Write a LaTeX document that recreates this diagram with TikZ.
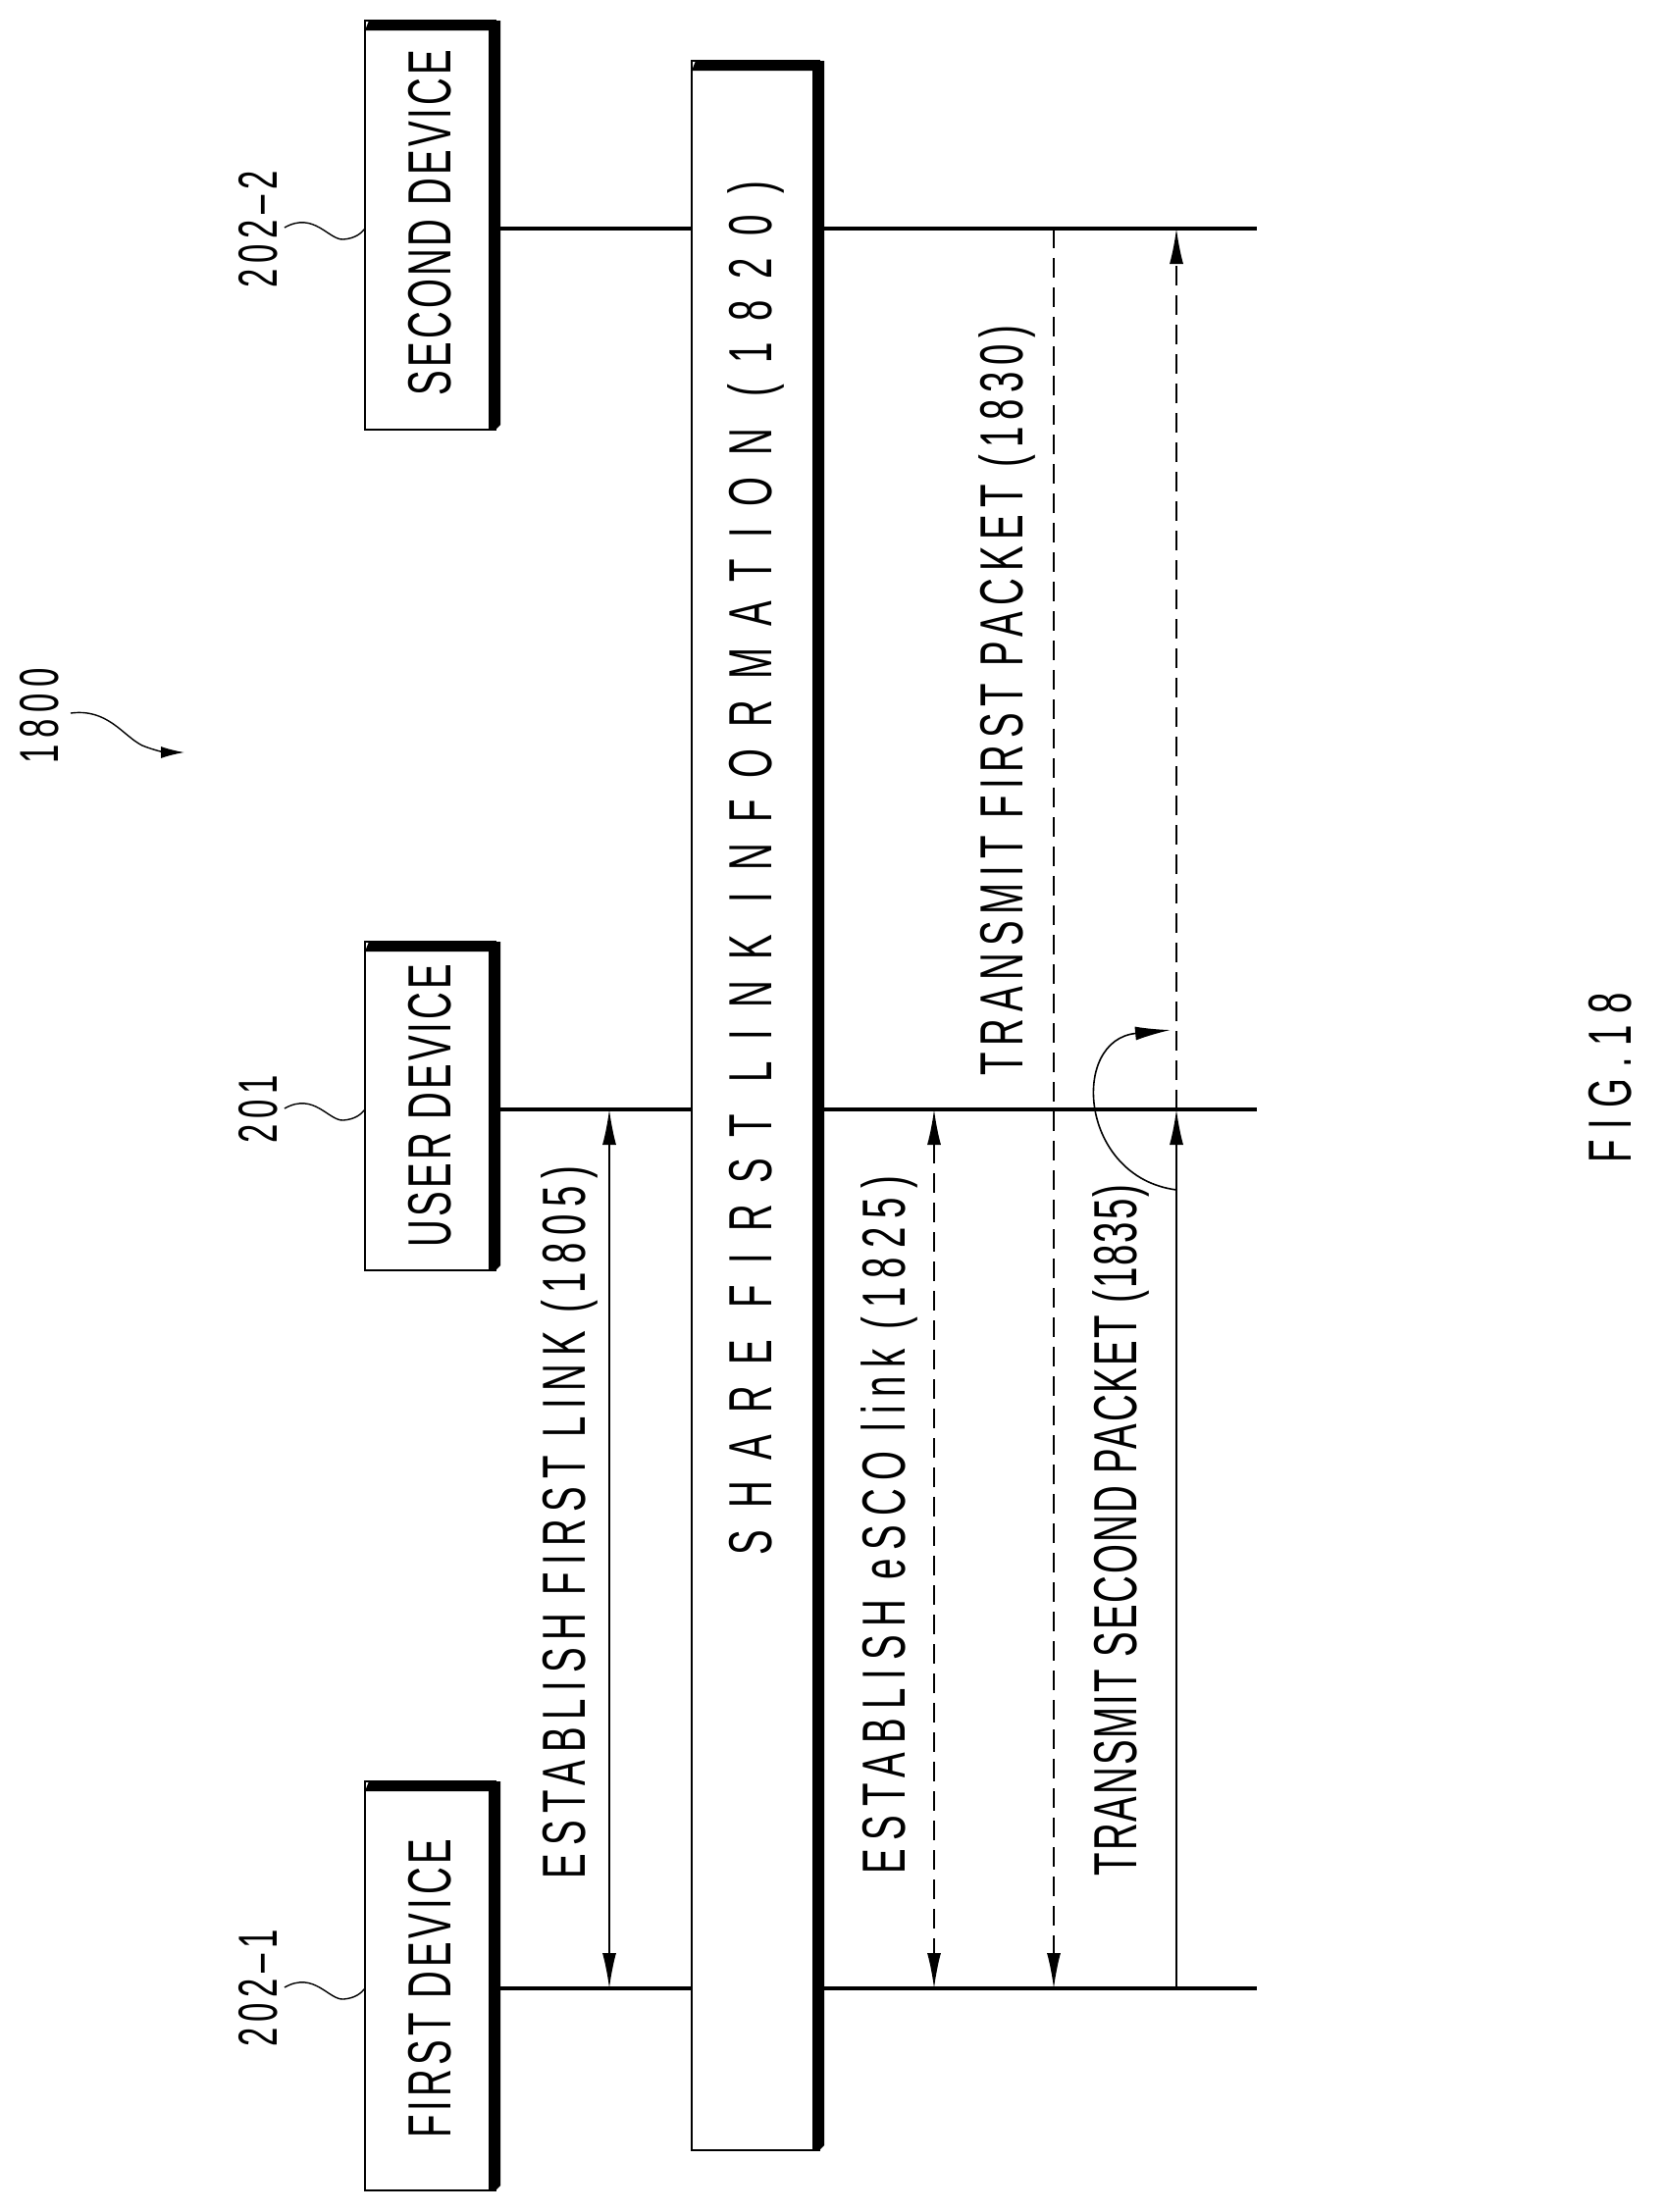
\documentclass[tikz,border=0pt]{standalone}
\usepackage{fontspec}
\setmainfont{Liberation Sans}
\newfontfamily\lbl[FakeStretch=0.62]{Liberation Sans}
\newcommand{\lab}[2]{{\addfontfeature{LetterSpace=#1}#2}}
\usetikzlibrary{arrows.meta}
\begin{document}
\begin{tikzpicture}[x=0.5pt,y=-0.5pt,
  life/.style={line width=2pt},
  msg/.style={line width=0.8pt,-{Latex[length=18pt,width=7pt]}},
  msgb/.style={line width=0.8pt,{Latex[length=18pt,width=7pt]}-{Latex[length=18pt,width=7pt]}},
  dsh/.style={dash pattern=on 10pt off 5pt},
  txt/.style={rotate=90,font=\lbl\fontsize{31}{36}\selectfont,inner sep=0pt},
  ref/.style={rotate=90,font=\lbl\fontsize{28}{32}\selectfont,inner sep=0pt},
  sq/.style={line width=0.7pt}]
\useasboundingbox (0,0) rectangle (1698,2255);
\newcommand{\devbox}[5]{% x1 y1 x2 y2 name
  \draw[line width=1.2pt] (#1,#2) rectangle (#3,#4);
  \fill (#1,#2+10) -- (#1+4,#2) -- (#3+5,#2) -- (#3+5,#4-5) -- (#3,#4) -- (#3-7,#4) -- (#3-7,#2+10) -- cycle;
  \coordinate (#5) at (#1,#2);}
\devbox{372}{21}{505}{438}{sd}
\devbox{372}{960}{505}{1295}{ud}
\devbox{372}{1816}{505}{2233}{fd}
\devbox{705}{62}{835}{2192}{bar}
\node[txt] (tsd) at (438,227) {\lab{5}{SECOND DEVICE}};
\node[txt] (tud) at (438,1127) {\lab{5}{USER DEVICE}};
\node[txt] (tfd) at (438,2027) {\lab{6.5}{FIRST DEVICE}};
\node[txt] (tbar) at (770,885) {\lab{35}{SHARE FIRST LINK INFORMATION (1820)}};
% lifelines
\coordinate (s1) at (510,233); \coordinate (s2) at (835,233); \coordinate (s3) at (1281,233);
\coordinate (u1) at (510,1131); \coordinate (u2) at (835,1131); \coordinate (u3) at (1281,1131);
\coordinate (f1) at (510,2027); \coordinate (f2) at (835,2027); \coordinate (f3) at (1281,2027);
\draw[life] (s1) -- (705,233) (s2) -- (s3);
\draw[life] (u1) -- (705,1131) (u2) -- (u3);
\draw[life] (f1) -- (705,2027) (f2) -- (f3);
% reference labels
\node[ref] (r2) at (263,234) {\lab{10}{202–2}};
\node[ref] (r1) at (263,1131) {\lab{10}{201}};
\node[ref] (r3) at (263,2027) {\lab{10}{202–1}};
\draw[sq] (290,232) .. controls (320,215) and (335,245) .. (350,244) .. controls (362,243) and (368,238) .. (372,233);
\draw[sq] (290,1130) .. controls (320,1113) and (335,1143) .. (350,1142) .. controls (362,1141) and (368,1136) .. (372,1131);
\draw[sq] (290,2026) .. controls (320,2009) and (335,2039) .. (350,2038) .. controls (362,2037) and (368,2032) .. (372,2027);
\node[ref] (r1800) at (40,730) {\lab{12}{1800}};
\coordinate (p1800) at (188,767);
\draw[sq,-{Latex[length=12pt,width=6pt]}] (72,727) .. controls (110,722) and (125,750) .. (145,760) .. controls (160,766) and (170,767) .. (p1800);
% messages
\coordinate (a1) at (621,1131); \coordinate (a1b) at (621,2027);
\draw[msgb] (a1) -- (a1b);
\node[txt] (t1805) at (580,1552) {\lab{12.5}{ESTABLISH FIRST LINK (1805)}};
\coordinate (a2) at (952,1131); \coordinate (a2b) at (952,2027);
\draw[msgb,dsh] (a2) -- (a2b);
\node[txt] (t1825) at (906,1555) {\lab{14.5}{ESTABLISH eSCO link (1825)}};
\coordinate (a3) at (1074,233); \coordinate (a3b) at (1074,2027);
\draw[msg,dsh] (a3) -- (a3b);
\node[txt] (t1830) at (1026,714) {\lab{11}{TRANSMIT FIRST PACKET (1830)}};
\coordinate (a4) at (1199,2027); \coordinate (a4m) at (1199,1131); \coordinate (a4t) at (1199,233);
\draw[msg] (a4) -- (a4m);
\draw[msg,dsh] (a4m) -- (a4t);
\node[txt] (t1835) at (1142,1560) {\lab{3.2}{TRANSMIT SECOND PACKET (1835)}};
\draw[msg] (1199,1213) .. controls (1100,1200) and (1090,1060) .. (1193,1050);
% fig
\node[txt] (fig) at (1641,1099) {\lab{18}{FIG.18}};
\end{tikzpicture}
\end{document}
